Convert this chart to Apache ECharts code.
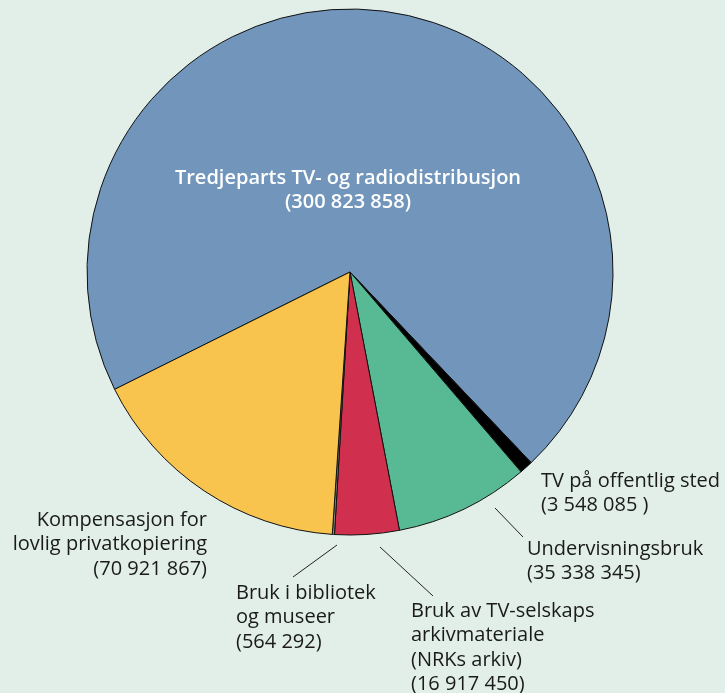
<!DOCTYPE html>
<html>
<head>
<meta charset="utf-8">
<script src="https://cdn.jsdelivr.net/npm/echarts@6/dist/echarts.min.js"></script>
<style>
  html, body { margin: 0; padding: 0; background: #e1efe8; }
  #chart { width: 725px; height: 693px; }
</style>
</head>
<body>
<div id="chart"></div>
<script>
// kategorier i rekkefølge med klokka, fra grensen mot gult
const names = [
  'Tredjeparts TV- og radiodistribusjon',
  'TV på offentlig sted',
  'Undervisningsbruk',
  'Bruk av TV-selskaps\narkivmateriale\n(NRKs arkiv)',
  'Bruk i bibliotek\nog museer',
  'Kompensasjon for\nlovlig privatkopiering'
];
const values = [300823858, 3548085, 35338345, 16917450, 564292, 70921867];
const valueSuffix = ['', ' ', '', '', '', ''];
const colors = ['#7295bb', '#000000', '#58b995', '#d0304e', '#8a8a8a', '#f8c44e'];

// plassering av etiketter (x, y = øverste linje, justering) og ledelinjer
const labelPos = [
  { x: 348, y: 166, align: 'center' },
  { x: 541, y: 469, align: 'left' },
  { x: 527, y: 537, align: 'left', line: [[495, 508], [523, 537]] },
  { x: 411, y: 599, align: 'left', line: [[380, 547], [433, 596]] },
  { x: 236, y: 581, align: 'left', line: [[337, 545], [293, 577]] },
  { x: 207, y: 508, align: 'right' }
];

function fmt(v) {
  return String(v).replace(/\B(?=(\d{3})+(?!\d))/g, ' ');
}

const chart = echarts.init(document.getElementById('chart'));

chart.setOption({
  backgroundColor: '#e1efe8',
  animation: false,
  series: [
    {
      type: 'pie',
      center: [350, 272],
      radius: 263,
      startAngle: 206.5,
      clockwise: true,
      avoidLabelOverlap: false,
      itemStyle: {
        borderColor: '#111',
        borderWidth: 1
      },
      label: {
        show: true,
        position: 'outside',
        fontFamily: 'Open Sans',
        fontSize: 20,
        lineHeight: 24.5,
        color: '#1a1a1a'
      },
      labelLine: {
        show: false,
        lineStyle: { color: '#222', width: 1 }
      },
      labelLayout: function (params) {
        const p = labelPos[params.dataIndex];
        const out = { x: p.x, y: p.y, align: p.align, verticalAlign: 'top' };
        if (p.line) out.labelLinePoints = p.line;
        return out;
      },
      data: names.map(function (n, i) {
        const item = {
          name: n,
          value: values[i],
          itemStyle: { color: colors[i] },
          label: {
            formatter: n + '\n(' + fmt(values[i]) + valueSuffix[i] + ')',
            align: labelPos[i].align
          },
          labelLine: { show: !!labelPos[i].line }
        };
        if (i === 0) {
          item.label.color = '#ffffff';
          item.label.fontWeight = 600;
        }
        return item;
      })
    }
  ]
});
</script>
</body>
</html>
